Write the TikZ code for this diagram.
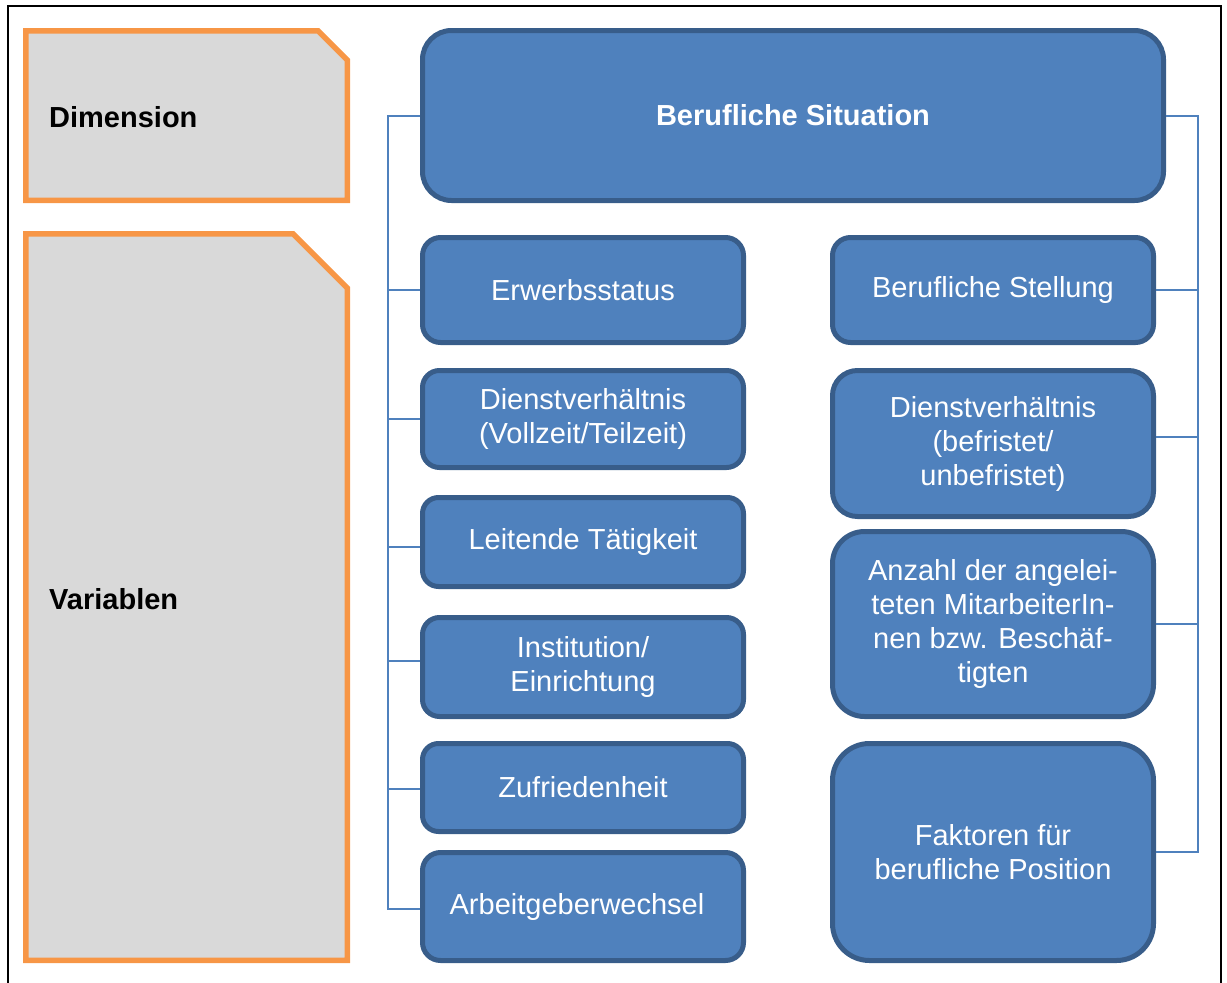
\documentclass[tikz,border=0pt]{standalone}
\usepackage{fontspec}
\setmainfont{Liberation Sans}
\definecolor{boxfill}{HTML}{4F81BD}
\definecolor{boxline}{HTML}{385D8A}
\definecolor{linkblue}{HTML}{4F81BD}
\definecolor{tagfill}{HTML}{D9D9D9}
\definecolor{tagline}{HTML}{F79646}
\begin{document}
\begin{tikzpicture}[x=1pt,y=-1pt,
  bluebox/.style={draw=boxline, fill=boxfill, line width=5pt, text=white,
    align=center, inner sep=0pt, font=\fontsize{29}{34}\selectfont},
  leftcol/.style={bluebox, minimum width=321pt},
  tagtext/.style={anchor=west, inner sep=0pt, font=\fontsize{29}{34}\selectfont\bfseries},
  tagbox/.style={draw=tagline, fill=tagfill, line width=5.5pt},
  conn/.style={draw=linkblue, line width=2.6pt}]
\useasboundingbox (0,0) rectangle (1227,983);

% outer frame
\draw[line width=2pt] (8,983) -- (8,6) -- (1221,6) -- (1221,983);

% label boxes with a snipped corner
\path[tagbox] (25.75,30.75) -- (318,30.75) -- (347.25,60) -- (347.25,200.25) -- (25.75,200.25) -- cycle;
\path[tagbox] (25.75,233.75) -- (293,233.75) -- (347.25,288) -- (347.25,960.25) -- (25.75,960.25) -- cycle;
\node[tagtext] (dim) at (49,117) {Dimension};
\node[tagtext] (var) at (49,599) {Variablen};

% dimension
\node[bluebox, minimum width=741pt, minimum height=170pt, rounded corners=29pt, font=\fontsize{29}{34}\selectfont\bfseries]
  (main) at (793,115.5) {Berufliche Situation};

% variables, left column
\node[leftcol, minimum height=105pt, rounded corners=18pt] (erw) at (583,290) {Erwerbsstatus};
\node[leftcol, minimum height=97pt, rounded corners=17pt] (dvl) at (583,419) {Dienstverhältnis\\(Vollzeit/Teilzeit)};
\node[leftcol, minimum height=89pt, rounded corners=16pt] (lei) at (583,542) {Leitende Tätigkeit};
\node[leftcol, minimum height=99pt, rounded corners=17pt] (ins) at (583,667) {Institution/\\Einrichtung};
\node[leftcol, minimum height=88pt, rounded corners=16pt] (zuf) at (583,787.5) {Zufriedenheit};
\node[leftcol, minimum height=108pt, rounded corners=18pt] (arb) at (583,906.5) {\hspace*{-12pt}Arbeitgeberwechsel};

% variables, right column
\node[leftcol, minimum height=105pt, rounded corners=18pt] (bst) at (993,290) {Berufliche Stellung};
\node[leftcol, minimum height=146pt, rounded corners=25pt] (dvr) at (993,443.5) {Dienstverhältnis\\(befristet/\\unbefristet)};
\node[leftcol, minimum height=185pt, rounded corners=32pt] (anz) at (993,624) {Anzahl der angelei-\\teten MitarbeiterIn-\\nen bzw. Beschäf-\\tigten};
\node[leftcol, minimum height=217pt, rounded corners=37pt] (fak) at (993,852) {Faktoren für\\berufliche Position};

% bracket spines
\coordinate (lspine) at (388,0);
\coordinate (rspine) at (1198,0);

% left bracket
\draw[conn] (main.west |- 0,116) -- (lspine |- 0,116) -- (lspine |- 0,909) -- ([yshift=-2.5pt]arb.west);
\draw[conn] (erw.west) -- (erw.west -| lspine);
\draw[conn] (dvl.west) -- (dvl.west -| lspine);
\draw[conn] ([yshift=-5pt]lei.west) -- ([yshift=-5pt]lei.west -| lspine);
\draw[conn] ([yshift=6pt]ins.west) -- ([yshift=6pt]ins.west -| lspine);
\draw[conn] ([yshift=-1.5pt]zuf.west) -- ([yshift=-1.5pt]zuf.west -| lspine);

% right bracket
\draw[conn] (main.east |- 0,116) -- (rspine |- 0,116) -- (rspine |- fak.east) -- (fak.east);
\draw[conn] (bst.east) -- (bst.east -| rspine);
\draw[conn] ([yshift=6.5pt]dvr.east) -- ([yshift=6.5pt]dvr.east -| rspine);
\draw[conn] (anz.east) -- (anz.east -| rspine);
\end{tikzpicture}
\end{document}
